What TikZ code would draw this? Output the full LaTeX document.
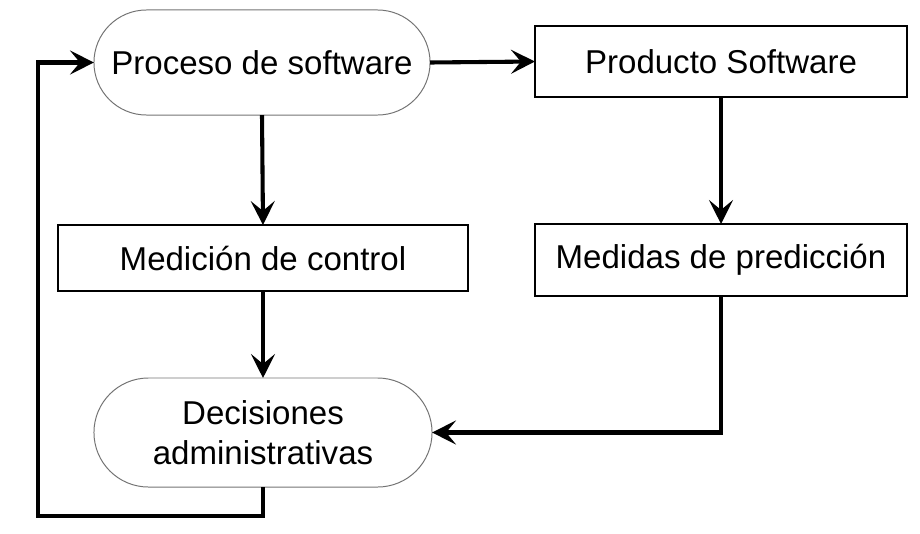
\documentclass[tikz,border=0pt]{standalone}
\usepackage{fontspec}
\setmainfont{Liberation Sans}
\usepackage{tikz}
\usetikzlibrary{arrows.meta,shapes.misc}
\tikzstyle{every node}=[inner sep=0pt, outer sep=0pt, font=\fontsize{23.5}{28.4}\selectfont]
\tikzset{caja/.style={rectangle, draw=black, line width=0.9pt},
  etapa/.style={rounded rectangle, draw=black!55, line width=0.7pt},
  flecha/.style={line width=2.9pt, -{Stealth[length=17pt,width=17pt,inset=7pt]}}}

\begin{document}
\begin{tikzpicture}[x=0.025cm,y=-0.025cm]
    \useasboundingbox (0,0) rectangle (920,533);
    \node[etapa, minimum width=8.4cm, minimum height=2.625cm] (proceso) at (262,62.5) {Proceso de software};
    \node[caja, minimum width=9.3cm, minimum height=1.775cm] (producto) at (721,61.5) {Producto Software};
    \node[caja, minimum width=10.25cm, minimum height=1.65cm] (medicion) at (263,258) {Medición de control};
    \node[caja, minimum width=9.3cm, minimum height=1.8cm] (medidas) at (721,260) {Medidas de predicción};
    \node[etapa, minimum width=8.45cm, minimum height=2.725cm, align=center] (decisiones) at (263,432.5) {Decisiones\\administrativas};
    \coordinate (retorno) at (38,516);
    \draw[flecha] (proceso.east) -- (producto.west);
    \draw[flecha] (proceso.south) -- (medicion.north);
    \draw[flecha] (producto.south) -- (medidas.north);
    \draw[flecha] (medicion.south) -- (decisiones.north);
    \draw[flecha] (medidas.south) |- (decisiones.east);
    \draw[flecha] (decisiones.south) |- (retorno) |- (proceso.west);
  \end{tikzpicture}
\end{document}
